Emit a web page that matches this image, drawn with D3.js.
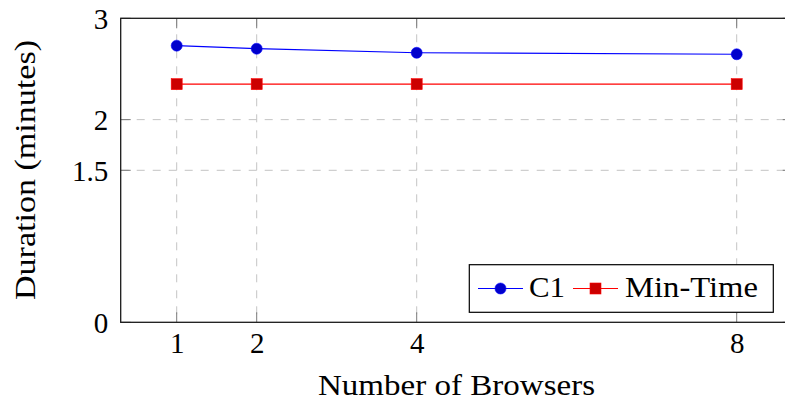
<!DOCTYPE html>
<html>
<head>
<meta charset="utf-8">
<script src="https://cdn.jsdelivr.net/npm/d3@7"></script>
<style>
  html, body { margin: 0; padding: 0; background: #fff; }
  svg { display: block; }
</style>
</head>
<body>
<svg id="chart" width="785" height="405"></svg>
<script>
const browsers = [1, 2, 4, 8];
const c1Values = [2.73, 2.70, 2.66, 2.645];
const minTimeValues = [2.35, 2.35, 2.35, 2.35];
const xTicks = [1, 2, 4, 8];
const yTicks = [0, 1.5, 2, 3];
const seriesNames = ["C1", "Min-Time"];

(function () {
const FONT = "'Liberation Serif', 'DejaVu Serif', serif";
const svg = d3.select("#chart");
const pLeft = 120.7, pTop = 18.3, pBottom = 322.3;
const x = d3.scaleLinear().domain([0.3, 8.7]).range([pLeft, pLeft + 8.4 * 80]);
const y = d3.scaleLinear().domain([0, 3]).range([pBottom, pTop]);
const pRight = x(8.7);

const gridColor = "#c4c4c4";
const grid = svg.append("g");
grid.selectAll(".vg").data(xTicks).enter().append("line")
  .attr("x1", d => x(d)).attr("x2", d => x(d))
  .attr("y1", pTop).attr("y2", pBottom)
  .attr("stroke", gridColor).attr("stroke-width", 1).attr("stroke-dasharray", "8,8");
grid.selectAll(".hg").data(yTicks.filter(d => d > 0 && d < 3)).enter().append("line")
  .attr("x1", pLeft).attr("x2", pRight)
  .attr("y1", d => y(d)).attr("y2", d => y(d))
  .attr("stroke", gridColor).attr("stroke-width", 1).attr("stroke-dasharray", "8,8");

const tickColor = "#7a7a7a", tl = 10;
const tk = svg.append("g").attr("stroke", tickColor).attr("stroke-width", 1);
xTicks.forEach(d => {
  tk.append("line").attr("x1", x(d)).attr("x2", x(d)).attr("y1", pBottom).attr("y2", pBottom - tl);
  tk.append("line").attr("x1", x(d)).attr("x2", x(d)).attr("y1", pTop).attr("y2", pTop + tl);
});
yTicks.forEach(d => {
  tk.append("line").attr("x1", pLeft).attr("x2", pLeft + tl).attr("y1", y(d)).attr("y2", y(d));
  tk.append("line").attr("x1", pRight).attr("x2", pRight - tl).attr("y1", y(d)).attr("y2", y(d));
});

svg.append("rect").attr("x", pLeft).attr("y", pTop)
  .attr("width", pRight - pLeft).attr("height", pBottom - pTop)
  .attr("fill", "none").attr("stroke", "#1a1a1a").attr("stroke-width", 1.3);

const fs = 29;
function styleText(sel) {
  return sel.style("font-family", FONT).style("font-size", fs + "px").attr("fill", "#000");
}
const xAxis = svg.append("g").attr("transform", `translate(0,${pBottom})`)
  .call(d3.axisBottom(x).tickValues(xTicks).tickSize(0).tickPadding(0).tickFormat(d3.format("d")));
xAxis.select(".domain").remove();
xAxis.attr("font-family", null).attr("font-size", null);
styleText(xAxis.selectAll("text")).attr("y", 31).attr("dy", "0");
const yAxis = svg.append("g").attr("transform", `translate(${pLeft},0)`)
  .call(d3.axisLeft(y).tickValues(yTicks).tickSize(0).tickPadding(12.4).tickFormat(d => String(d)));
yAxis.select(".domain").remove();
yAxis.attr("font-family", null).attr("font-size", null);
styleText(yAxis.selectAll("text")).attr("dy", "0.345em");

styleText(svg.append("text").attr("x", 456.5).attr("y", 395).attr("text-anchor", "middle"))
  .attr("textLength", 277).attr("lengthAdjust", "spacingAndGlyphs")
  .text("Number of Browsers");
styleText(svg.append("text").attr("transform", "translate(35,170) rotate(-90)").attr("text-anchor", "middle"))
  .attr("textLength", 260).attr("lengthAdjust", "spacingAndGlyphs")
  .text("Duration (minutes)");

const series = [
  { name: seriesNames[0], values: c1Values, line: "#0000ff", fill: "#0000cc", shape: "circle" },
  { name: seriesNames[1], values: minTimeValues, line: "#ff0000", fill: "#cc0000", shape: "square" }
];
const lineGen = d3.line().x((d, i) => x(browsers[i])).y(d => y(d));
function drawMarker(g, shape, cx, cy, fill, stroke) {
  if (shape === "circle") {
    g.append("circle").attr("cx", cx).attr("cy", cy).attr("r", 5.5)
      .attr("fill", fill).attr("stroke", stroke).attr("stroke-width", 0.6);
  } else {
    g.append("rect").attr("x", cx - 5.5).attr("y", cy - 5.5).attr("width", 11).attr("height", 11)
      .attr("fill", fill).attr("stroke", stroke).attr("stroke-width", 0.6);
  }
}
series.forEach(s => {
  svg.append("path").datum(s.values).attr("d", lineGen)
    .attr("fill", "none").attr("stroke", s.line).attr("stroke-width", 1.2);
  const g = svg.append("g");
  s.values.forEach((v, i) => drawMarker(g, s.shape, x(browsers[i]), y(v), s.fill, s.line));
});

const lg = svg.append("g");
lg.append("rect").attr("x", 469.3).attr("y", 264.7).attr("width", 304).attr("height", 47.6)
  .attr("fill", "#fff").attr("stroke", "#000").attr("stroke-width", 1.2);
const legendItems = [
  { s: series[0], x0: 478, x1: 523, tx: 529, tw: 36 },
  { s: series[1], x0: 573, x1: 618, tx: 625, tw: 133 }
];
legendItems.forEach(it => {
  const ly = 288.5;
  lg.append("line").attr("x1", it.x0).attr("x2", it.x1).attr("y1", ly).attr("y2", ly)
    .attr("stroke", it.s.line).attr("stroke-width", 1.2);
  drawMarker(lg, it.s.shape, (it.x0 + it.x1) / 2, ly, it.s.fill, it.s.line);
  styleText(lg.append("text").attr("x", it.tx).attr("y", 297))
    .attr("textLength", it.tw).attr("lengthAdjust", "spacingAndGlyphs").text(it.s.name);
});
})();
</script>
</body>
</html>
